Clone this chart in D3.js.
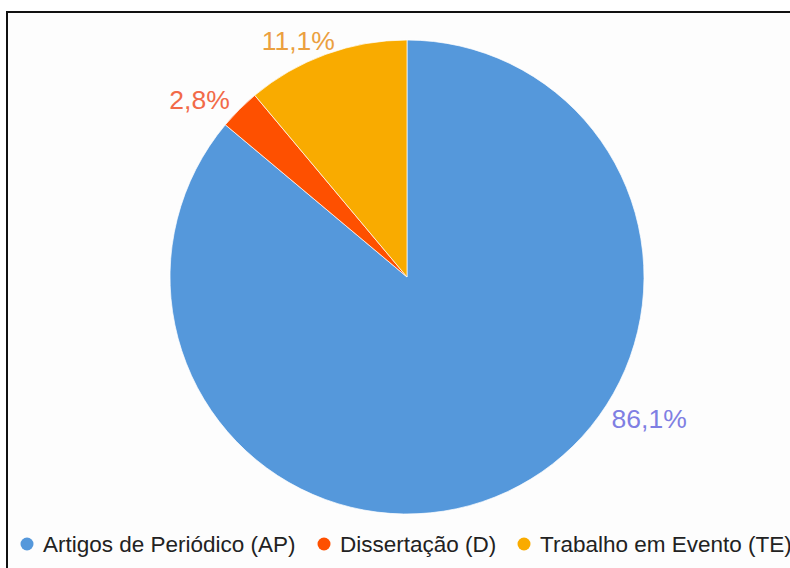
<!DOCTYPE html>
<meta charset="utf-8">
<style>
	body { margin: 0; background: #fff; font-family: "Liberation Sans", Arial, sans-serif; }
	svg { display: block; }
</style>
<body>
<svg id="pie" width="790" height="568"></svg>
<script src="https://d3js.org/d3.v7.min.js"></script>
<script>
	// data
	var categories = ["Artigos de Periódico (AP)", "Dissertação (D)", "Trabalho em Evento (TE)"];
	var values = [86.1, 2.8, 11.1];
	var labels = ["86,1%", "2,8%", "11,1%"];
	var colors = ["#5598db", "#fe5000", "#f9ab00"];
	var labelColors = ["#7f7fe3", "#f26a48", "#eba03f"];

	var svg = d3.select("#pie");

	// frame, cut off at right and bottom like the screenshot
	svg.append("rect")
		.attr("x", 7).attr("y", 12)
		.attr("width", 820).attr("height", 620)
		.attr("fill", "#fdfdfd")
		.attr("stroke", "#111")
		.attr("stroke-width", 2);

	var cx = 407, cy = 277, r = 237;

	var pie = d3.pie().sort(null).value(function(d) { return d; });
	var arcs = pie(values);
	var arc = d3.arc().innerRadius(0).outerRadius(r);

	var g = svg.append("g").attr("transform", "translate(" + cx + "," + cy + ")");

	g.selectAll("path.slice")
		.data(arcs)
		.enter().append("path")
		.attr("class", "slice")
		.attr("d", arc)
		.attr("fill", function(d, i) { return colors[i]; })
		.attr("stroke", "#fff")
		.attr("stroke-width", 0.7);

	// labels: start from a point just outside the rim, then nudge like google charts does
	var labelArc = d3.arc().innerRadius(r + 14).outerRadius(r + 14);
	var nudge = [[136, -86], [-30, 0], [-23, 0]];
	g.selectAll("text.lbl")
		.data(arcs)
		.enter().append("text")
		.attr("class", "lbl")
		.attr("x", function(d, i) { return labelArc.centroid(d)[0] + nudge[i][0]; })
		.attr("y", function(d, i) { return labelArc.centroid(d)[1] + nudge[i][1]; })
		.attr("dy", "0.35em")
		.attr("text-anchor", "middle")
		.attr("font-size", 26.5)
		.attr("fill", function(d, i) { return labelColors[i]; })
		.text(function(d, i) { return labels[i]; });

	// legend
	var legendX = [27, 324, 524];
	var lg = svg.append("g").attr("transform", "translate(0,544)");
	var items = lg.selectAll("g")
		.data(categories)
		.enter().append("g")
		.attr("transform", function(d, i) { return "translate(" + legendX[i] + ",0)"; });
	items.append("circle")
		.attr("r", 6.5)
		.attr("fill", function(d, i) { return colors[i]; });
	items.append("text")
		.attr("x", 16)
		.attr("dy", "0.35em")
		.attr("font-size", 22.5)
		.attr("fill", "#222")
		.text(function(d) { return d; });
</script>
</body>
